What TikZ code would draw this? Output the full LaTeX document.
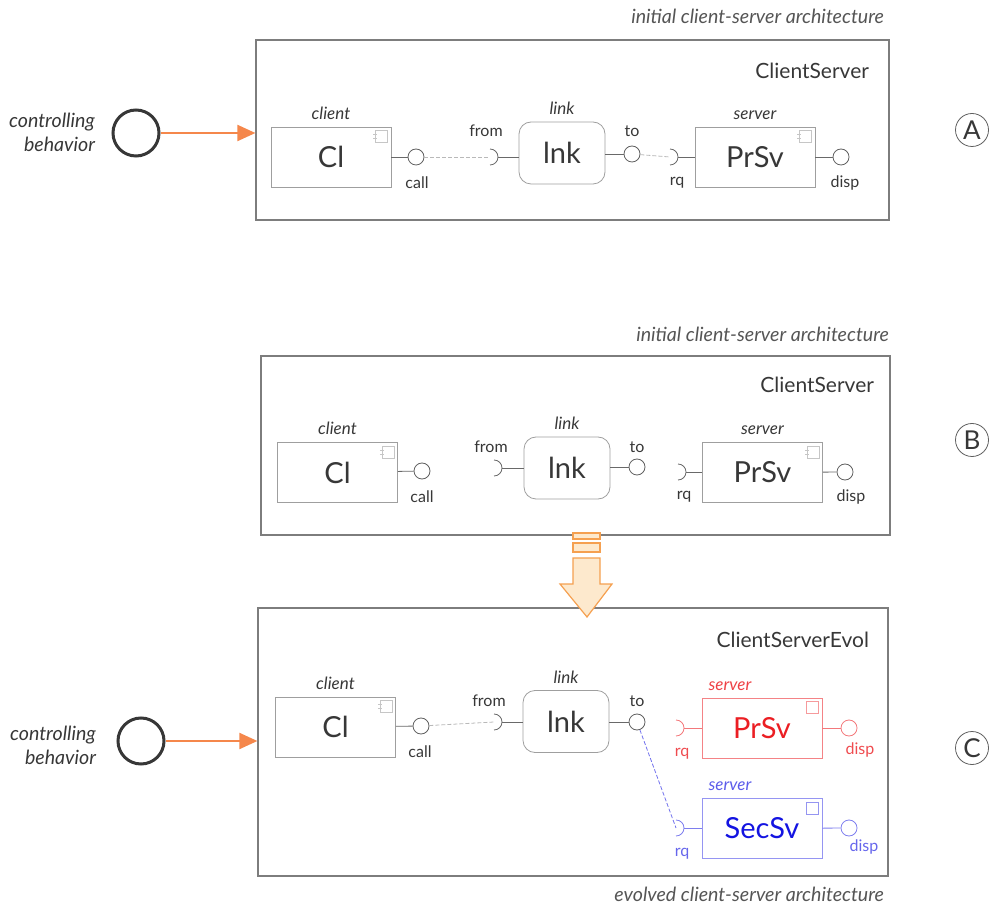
\documentclass[tikz,border=0pt]{standalone}
\usepackage{fontspec}
\setmainfont{Lato}
\usetikzlibrary{arrows.meta,positioning}
\definecolor{ink}{RGB}{55,55,55}
\definecolor{frameline}{RGB}{125,125,125}
\definecolor{ctrlorange}{RGB}{245,135,75}
\definecolor{evolfill}{RGB}{253,233,205}
\definecolor{evolline}{RGB}{245,160,80}
\definecolor{srvred}{RGB}{235,30,35}
\definecolor{srvblue}{RGB}{20,20,225}

\begin{document}
\begin{tikzpicture}[x=0.5pt,y=-0.5pt,
	every node/.style={text=ink},
	arch/.style     = {draw=frameline, line width=0.6pt, inner sep=0pt},
	archname/.style = {font=\fontsize{10.5}{12}\selectfont, anchor=base east},
	caption/.style  = {font=\fontsize{9.8}{11}\selectfont\itshape, anchor=base east, text=ink!85},
	comp/.style     = {draw=gray!75, line width=0.4pt, minimum width=60pt, minimum height=30pt, font=\fontsize{14.5}{16}\selectfont},
	conn/.style     = {comp, rounded corners=6pt, minimum width=43pt, minimum height=31pt},
	role/.style     = {font=\fontsize{8.5}{10}\selectfont\itshape},
	port/.style     = {circle, draw=ink!80, line width=0.4pt, minimum size=8pt, inner sep=0pt},
	portname/.style = {font=\fontsize{8}{10}\selectfont},
	wire/.style     = {draw=ink!75, line width=0.4pt},
	attach/.style   = {draw=gray!55, line width=0.4pt, dash pattern=on 2pt off 1pt},
	ctrl/.style     = {circle, draw=ink, line width=1.5pt, minimum size=23pt, inner sep=0pt},
	ctrltext/.style = {font=\fontsize{9.8}{12}\selectfont\itshape, align=right, anchor=east},
	ctrlarrow/.style= {ctrlorange, line width=1pt, -{Triangle[length=9pt,width=8pt]}},
	tag/.style      = {circle, draw=ink!80, line width=0.4pt, minimum size=16.5pt, inner sep=0pt, font=\fontsize{13}{13}\selectfont}]

	\useasboundingbox (0,0) rectangle (990,908);

	% panel A: initial architecture, driven
	\node[arch, minimum width=316.5pt, minimum height=90pt] (archA) at (572.5,130) {};
	\node[caption] (capA) at (891,24) {initial client-server architecture};
	\node[archname] (nameA) at (876,79) {ClientServer};
	\node[comp, label={[role]above:client}] (clA) at (331,157) {Cl};
	\node[conn, label={[role]above:link}] (lnkA) at (562,153) {lnk};
	\node[comp, label={[role]above:server}] (srvA) at (755,157) {PrSv};
	\node[port] (callA) at (416,157) {};
	\node[port] (toA) at (632,154) {};
	\node[port] (dispA) at (841,157) {};
	\coordinate (fromA) at (490,157);
	\coordinate (rqA) at (670,157);
	\node[portname] (lcallA) at (417,183) {call};
	\node[portname] (lfromA) at (486,131) {from};
	\node[portname] (ltoA) at (632,131) {to};
	\node[portname] (lrqA) at (677,183) {rq};
	\node[portname] (ldispA) at (845,183) {disp};
	\node[ctrl] (ctrlA) at (136,133) {};
	\node[ctrltext] (behA) at (102,132) {controlling\\behavior};
	\node[tag] (tagA) at (972,130) {A};

	% panel B: initial architecture, unbound
	\node[arch, minimum width=314.5pt, minimum height=89.5pt] (archB) at (575.5,445.5) {};
	\node[caption] (capB) at (896,342) {initial client-server architecture};
	\node[archname] (nameB) at (881,393) {ClientServer};
	\node[comp, label={[role]above:client}] (clB) at (337.5,472.5) {Cl};
	\node[conn, label={[role]above:link}] (lnkB) at (567,468) {lnk};
	\node[comp, label={[role]above:server}] (srvB) at (762.5,472.5) {PrSv};
	\node[port] (callB) at (422,471) {};
	\node[port] (toB) at (637,467) {};
	\node[port] (dispB) at (845,472) {};
	\coordinate (fromB) at (494,468);
	\coordinate (rqB) at (678,472);
	\node[portname] (lcallB) at (422,497) {call};
	\node[portname] (lfromB) at (491,447) {from};
	\node[portname] (ltoB) at (637,447) {to};
	\node[portname] (lrqB) at (684,497) {rq};
	\node[portname] (ldispB) at (851,497) {disp};
	\node[tag] (tagB) at (972,440) {B};

	% panel C: evolved architecture
	\node[arch, minimum width=315pt, minimum height=134pt] (archC) at (573,742) {};
	\node[caption] (capC) at (891,901) {evolved client-server architecture};
	\node[archname] (nameC) at (876,647) {ClientServerEvol};
	\node[comp, label={[role]above:client}] (clC) at (335.5,727) {Cl};
	\node[conn, label={[role]above:link}] (lnkC) at (566,721.5) {lnk};
	\node[comp, draw=srvred!55, text=srvred, label={[role, text=srvred!85, anchor=south west]north west:server}] (srvC) at (762,728) {PrSv};
	\node[comp, draw=srvblue!45, text=srvblue, label={[role, text=srvblue!70, anchor=south west]north west:server}] (srvD) at (762,828.5) {SecSv};
	\node[port] (callC) at (421,726) {};
	\node[port] (toC) at (637,722) {};
	\node[port, draw=srvred!60] (dispC) at (849,728) {};
	\node[port, draw=srvblue!55] (dispD) at (849,828) {};
	\coordinate (fromC) at (494,722);
	\coordinate (rqC) at (676,728);
	\coordinate (rqD) at (676,828);
	\node[portname] (lcallC) at (420,752) {call};
	\node[portname] (lfromC) at (489,701) {from};
	\node[portname] (ltoC) at (637,701) {to};
	\node[portname, text=srvred!80] (lrqC) at (682,754) {rq};
	\node[portname, text=srvred!80] (ldispC) at (860,750) {disp};
	\node[portname, text=srvblue!65] (lrqD) at (682,854) {rq};
	\node[portname, text=srvblue!65] (ldispD) at (864,847) {disp};
	\node[ctrl] (ctrlC) at (141,741) {};
	\node[ctrltext] (behC) at (103,745) {controlling\\behavior};
	\node[tag] (tagC) at (972,748) {C};

	% component icons
	\foreach \b in {clA,srvA,clB,srvB,clC}{
	\draw[gray!45, line width=0.3pt] ([xshift=-8pt,yshift=-2pt]\b.north east) rectangle ([xshift=-2pt,yshift=-8pt]\b.north east);
	\draw[gray!45, line width=0.3pt] ([xshift=-9pt,yshift=-4pt]\b.north east) -- ([xshift=-7pt,yshift=-4pt]\b.north east)
		([xshift=-9pt,yshift=-6pt]\b.north east) -- ([xshift=-7pt,yshift=-6pt]\b.north east);
	}
	\draw[srvred!45, line width=0.3pt] ([xshift=-8pt,yshift=-2pt]srvC.north east) rectangle ([xshift=-2pt,yshift=-8pt]srvC.north east);
	\draw[srvblue!45, line width=0.3pt] ([xshift=-8pt,yshift=-2pt]srvD.north east) rectangle ([xshift=-2pt,yshift=-8pt]srvD.north east);

	% sockets
	\foreach \s in {fromA,rqA,fromB,rqB,fromC}
	\draw[wire] (\s) ++(0,8) arc[start angle=90, end angle=-90, radius=8];
	\draw[wire, draw=srvred!60] (rqC) ++(0,8) arc[start angle=90, end angle=-90, radius=8];
	\draw[wire, draw=srvblue!55] (rqD) ++(0,8) arc[start angle=90, end angle=-90, radius=8];

	% port stubs
	\foreach \p in {A,B,C} {
		\draw[wire] (cl\p) -- (call\p);
		\draw[wire] (from\p) ++(8,0) -- (from\p -| lnk\p.west);
		\draw[wire] (lnk\p.east |- to\p) -- (to\p);
	}
	\foreach \p in {A,B}{
		\draw[wire] (rq\p) ++(8,0) -- (rq\p -| srv\p.west);
		\draw[wire] (srv\p) -- (disp\p);
	}
	\draw[wire, draw=srvred!60] (rqC) ++(8,0) -- (rqC -| srvC.west);
	\draw[wire, draw=srvred!60] (srvC) -- (dispC);
	\draw[wire, draw=srvblue!55] (rqD) ++(8,0) -- (rqD -| srvD.west);
	\draw[wire, draw=srvblue!55] (srvD) -- (dispD);

	% attachments
	\draw[attach] (callA) -- (fromA);
	\draw[attach] (toA) -- (rqA);
	\draw[attach] (callC) -- (fromC);
	\draw[attach, draw=srvblue!60] (toC) -- (rqD);

	% controlling behavior
	\draw[ctrlarrow] (ctrlA) -- (ctrlA -| archA.west);
	\draw[ctrlarrow] (ctrlC) -- (ctrlC -| archC.west);

	% evolution arrow
	\begin{scope}[draw=evolline, fill=evolfill, line width=0.6pt]
		\filldraw (573,533) rectangle (600,539);
		\filldraw (573,543) rectangle (600,552);
		\filldraw (573,558) -- (600,558) -- (600,584) -- (612,584) -- (587,617) -- (560,584) -- (573,584) -- cycle;
	\end{scope}
\end{tikzpicture}
\end{document}
